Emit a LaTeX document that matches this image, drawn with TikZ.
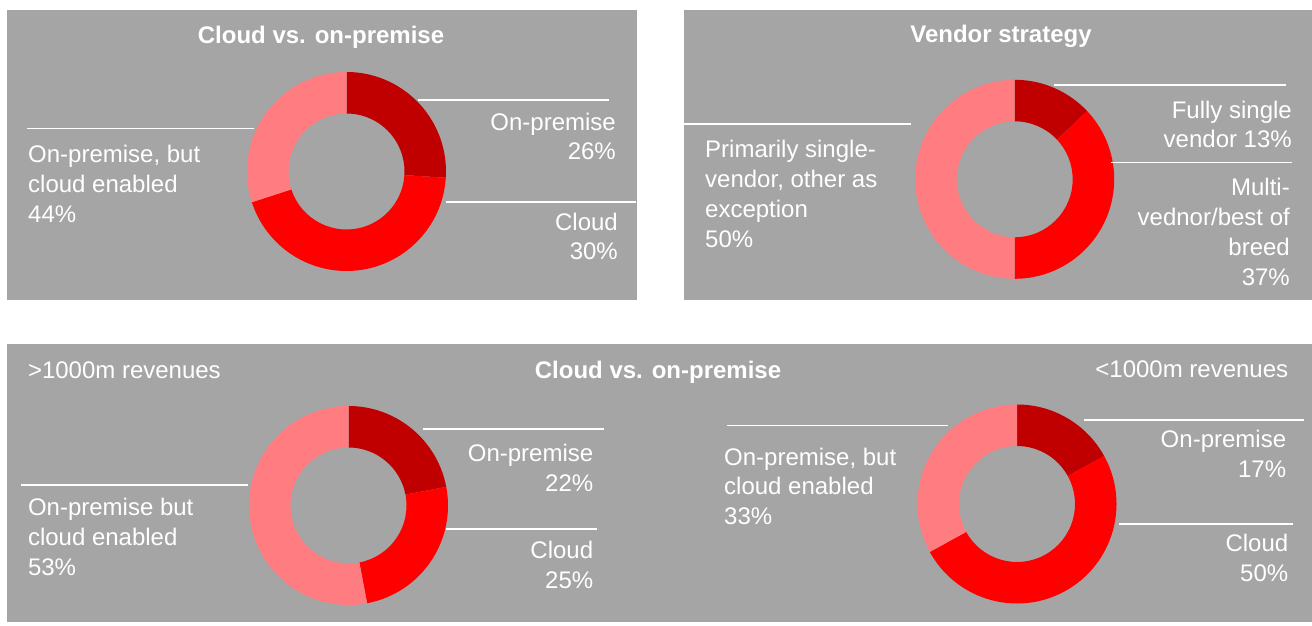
\documentclass[tikz,border=0pt]{standalone}
\usepackage{fontspec}
\setmainfont{Liberation Sans}
\definecolor{panelgray}{HTML}{A5A5A5}
\definecolor{sdark}{HTML}{C00000}
\definecolor{sred}{HTML}{FF0000}
\definecolor{spink}{HTML}{FF7C80}
\newcommand\ringslice[4]{%
  \fill[#4] ([shift={(#2:99.5)}]#1) arc[start angle=#2,end angle=#3,radius=99.5]
    -- ([shift={(#3:58)}]#1) arc[start angle=#3,end angle=#2,radius=58] -- cycle;}
\begin{document}
\begin{tikzpicture}[x=1pt,y=1pt,
  panel/.style={fill=panelgray},
  lead/.style={draw=white,line width=1.3pt},
  lbl/.style={text=white,inner sep=0pt,font=\fontsize{24}{29.8}\selectfont},
  lblr/.style={lbl,align=right,anchor=north east},
  lbll/.style={lbl,align=left,anchor=north west},
  lblb/.style={lbl,anchor=base west},
  ttl/.style={text=white,inner sep=0pt,font=\bfseries\fontsize{24}{29.8}\selectfont,anchor=base}]
\useasboundingbox (0,0) rectangle (1312,626);
\fill[white] (0,0) rectangle (1312,626);
% panels
\fill[panel] (7,326) rectangle (637,616);
\fill[panel] (684,326) rectangle (1312,616);
\fill[panel] (7,4) rectangle (1312,282);
% ---------- chart 1 ----------
\coordinate (c1) at (346.5,454.5);
\ringslice{c1}{90}{-3.6}{sdark}
\ringslice{c1}{-3.6}{-162}{sred}
\ringslice{c1}{-162}{-270}{spink}
\node[ttl] (t1) at (321,582) {Cloud vs. on-premise};
\draw[lead] (418,526) coordinate (a1) -- (609,526) coordinate (b1);
\draw[lead] (446,424) coordinate (a2) -- (636,424) coordinate (b2);
\draw[lead] (26.6,497.3) coordinate (a3) -- (254,497.3) coordinate (b3);
\node[lblr] (n1a) at (616,513.5) {On-premise\\26\%};
\node[lblr] (n1b) at (618,413.5) {Cloud\\30\%};
\node[lbll] (n1c) at (28,480.8) {On-premise, but\\cloud enabled\\44\%};
% ---------- chart 2 ----------
\coordinate (c2) at (1014.7,446.7);
\ringslice{c2}{90}{43.2}{sdark}
\ringslice{c2}{43.2}{-90}{sred}
\ringslice{c2}{-90}{-270}{spink}
\node[ttl] (t2) at (1001,583.3) {Vendor strategy};
\draw[lead] (1054,541) coordinate (a4) -- (1286,541) coordinate (b4);
\draw[lead] (1111,463.3) coordinate (a5) -- (1292,463.3) coordinate (b5);
\draw[lead] (684,502) coordinate (a6) -- (911,502) coordinate (b6);
\node[lblr] (n2a) at (1292,525.5) {Fully single\\vendor 13\%};
\node[lblr] (n2b) at (1290,447.8) {Multi-\\vednor/best of\\breed\\37\%};
\node[lbll] (n2c) at (705,485.8) {Primarily single-\\vendor, other as\\exception\\50\%};
% ---------- bottom panel ----------
\node[ttl] (t3) at (658,247.7) {Cloud vs. on-premise};
\node[lblb] (r1) at (27.8,247.7) {>1000m revenues};
\node[lbl,anchor=base east] (r2) at (1288.4,248) {<1000m revenues};
% chart 3
\coordinate (c3) at (348.5,120.5);
\ringslice{c3}{90}{10.8}{sdark}
\ringslice{c3}{10.8}{-79.2}{sred}
\ringslice{c3}{-79.2}{-270}{spink}
\draw[lead] (423,197) coordinate (a7) -- (604,197) coordinate (b7);
\draw[lead] (446,97) coordinate (a8) -- (597,97) coordinate (b8);
\draw[lead] (21,141) coordinate (a9) -- (247.5,141) coordinate (b9);
\node[lblr] (n3a) at (593.4,181.8) {On-premise\\22\%};
\node[lblr] (n3b) at (593.4,85.2) {Cloud\\25\%};
\node[lbll] (n3c) at (27.8,127.8) {On-premise but\\cloud enabled\\53\%};
% chart 4
\coordinate (c4) at (1017,122);
\ringslice{c4}{90}{28.8}{sdark}
\ringslice{c4}{28.8}{-151.2}{sred}
\ringslice{c4}{-151.2}{-270}{spink}
\draw[lead] (1084,206) coordinate (a10) -- (1304,206) coordinate (b10);
\draw[lead] (1118.7,102) coordinate (a11) -- (1293.4,102) coordinate (b11);
\draw[lead] (727,200.7) coordinate (a12) -- (948,200.7) coordinate (b12);
\node[lblr] (n4a) at (1286.3,196.2) {On-premise\\17\%};
\node[lblr] (n4b) at (1288.4,91.8) {Cloud\\50\%};
\node[lbll] (n4c) at (724,178.5) {On-premise, but\\cloud enabled\\33\%};
\end{tikzpicture}
\end{document}
